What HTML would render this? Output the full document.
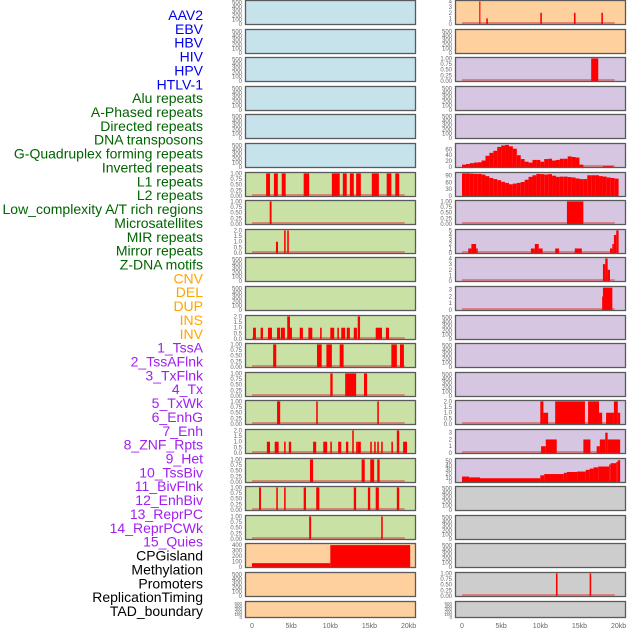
<!DOCTYPE html>
<html><head><meta charset="utf-8">
<style>
html,body{margin:0;padding:0;background:#fff;}
svg{display:block;font-family:"Liberation Sans",sans-serif;}
</style></head>
<body>
<svg id="chart" width="630" height="630" viewBox="0 0 630 630"></svg>
<script>
// ---------- data ----------
const trackLabels = ["AAV2","EBV","HBV","HIV","HPV","HTLV-1","Alu repeats","A-Phased repeats","Directed repeats","DNA transposons","G-Quadruplex forming repeats","Inverted repeats","L1 repeats","L2 repeats","Low_complexity A/T rich regions","Microsatellites","MIR repeats","Mirror repeats","Z-DNA motifs","CNV","DEL","DUP","INS","INV","1_TssA","2_TssAFlnk","3_TxFlnk","4_Tx","5_TxWk","6_EnhG","7_Enh","8_ZNF_Rpts","9_Het","10_TssBiv","11_BivFlnk","12_EnhBiv","13_ReprPC","14_ReprPCWk","15_Quies","CPGisland","Methylation","Promoters","ReplicationTiming","TAD_boundary"];
const labelColors = ["#0000ee","#006400","#ffa500","#a020f0","#000000"];
const labelGroups = [6,13,5,15,5];
const xTickVals = [0,5,10,15,20];
const xTickLabels = ["0","5kb","10kb","15kb","20kb"];
const emptyTicks = [0,100,200,300,400,500];
const ticks1 = [0,0.25,0.5,0.75,1.0];
const ticks2 = [0,0.5,1.0,1.5,2.0];

// bars: [startKb, endKb, value]
const L_r7 = [[1.8,2.3,1],[2.8,3.3,1],[3.8,4.3,1],[6.6,7.3,1],[10.2,11.2,1],[11.6,12.1,1],[12.5,13.0,1],[13.3,13.9,1],[15.3,16.2,1],[17.2,17.8,1],[18.3,18.8,1]];
const L_r8 = [[2.26,2.5,1]];
const L_r9 = [[3.06,3.32,1],[4.1,4.3,2],[4.5,4.7,2]];
const L_r12 = [[0.13,0.5,1],[1.1,1.4,1],[2.04,2.55,1],[3.2,3.6,1],[3.7,4.2,1],[4.5,4.85,2],[4.85,5.1,1],[6.1,6.5,1],[7.2,7.7,1],[8.7,8.9,1],[10.0,10.5,1],[10.9,11.1,1],[11.4,11.9,1],[12.1,12.5,1],[13.0,13.4,1],[13.5,13.8,2],[15.8,16.6,1],[17.1,17.5,1]];
const L_r13 = [[2.7,3.1,1],[8.3,8.9,1],[9.5,10.2,1],[11.2,11.7,1],[17.8,18.5,1],[18.9,19.4,1]];
const L_r14 = [[10.0,10.3,1],[11.9,13.3,1],[14.3,14.7,1]];
const L_r15 = [[3.2,3.6,1],[8.2,8.4,1],[16.0,16.2,1]];
const L_r16 = [[1.9,2.3,1],[2.9,3.4,1],[4.1,4.3,1],[4.7,5.0,1],[7.8,8.2,1],[9.1,9.6,1],[10.0,10.2,1],[11.0,11.4,1],[12.0,12.3,1],[12.8,13.0,2],[13.3,13.5,1],[13.5,13.9,1],[15.1,15.3,1],[15.6,15.8,1],[16.0,16.2,1],[16.5,16.7,1],[17.8,18.0,1],[18.5,18.8,2],[19.3,19.8,1]];
const L_r17 = [[7.4,7.8,1],[14.0,14.4,1],[15.1,15.6,1],[16.0,16.3,1]];
const L_r18 = [[0.9,1.15,1],[3.1,3.3,1],[4.1,4.3,1],[6.6,6.9,1],[8.2,8.6,1],[13.0,13.3,1],[14.8,15.1,1],[15.8,16.2,1],[18.5,18.8,1]];
const L_r19 = [[7.3,7.55,1],[16.5,16.7,1]];
const L_r20 = [[0,10,70],[10,20.2,400]];
const R_r1 = [[2.2,2.35,4],[3.1,3.3,1],[10.0,10.2,2],[14.3,14.5,2],[17.8,18.0,2]];
const R_r3 = [[16.5,17.4,1]];
const R_r6_vals = [8,10,13,15,16,22,38,48,55,68,73,75,70,62,40,27,18,15,24,24,18,27,28,22,24,28,28,36,34,32,8];
const R_r6_extra = [[18.0,19.3,3]];
const R_r7_vals = [100,100,99,98,98,95,88,80,75,70,63,58,52,55,58,62,72,85,92,98,97,95,97,90,85,86,86,84,82,78,75,75,92,92,92,88,86,82,80,77];
const R_r8 = [[13.4,15.5,1]];
const R_r9 = [[0.8,1.2,1],[1.2,1.8,2],[1.8,2.0,1],[8.8,9.3,1],[9.3,9.8,2],[9.8,10.3,1],[11.9,12.4,1],[14.4,15.3,1],[18.9,19.2,1],[19.2,19.4,2],[19.4,19.7,4],[19.7,20.0,5]];
const R_r10 = [[18.0,18.3,3],[18.3,18.6,4],[18.6,18.9,2]];
const R_r11 = [[17.9,18.0,2],[18.0,19.2,3.3]];
const R_r15 = [[10.0,10.4,2],[10.4,11.0,1],[11.9,15.7,2],[16.1,17.5,2],[17.5,17.9,1],[18.4,19.4,1],[19.4,19.9,2],[19.9,20.2,1]];
const R_r16 = [[10.1,10.7,1],[10.7,12.1,2],[15.5,16.4,2],[17.2,17.6,1],[17.6,18.3,2],[18.3,18.6,3],[18.6,20.2,2]];
const R_r17 = [[0,0.9,13],[0.9,2.3,11],[2.3,10,9],[10,10.5,16],[10.5,13,19],[13,13.4,22],[13.4,14.7,24],[14.7,15.8,25],[15.8,16.3,29],[16.3,16.8,32],[16.8,17.4,35],[17.4,18.8,37],[18.8,19,42],[19,19.7,45],[19.7,19.9,48],[19.9,20.2,52]];
const R_r21 = [[12.0,12.2,1],[16.3,16.5,1]];

function bins(vals, start, w){ return vals.map((v,i)=>[start+i*w, start+(i+1)*w, v]); }

const BG = {blue:"#c6e3ec", green:"#c9e1a4", orange:"#fed09e", purple:"#d6c6e1", grey:"#cdcdcd"};
// panels: col, row, bg, bars, ymax, ticks
const panels = [];
for(let r=0;r<22;r++){
  let bg = r<6?BG.blue:(r<19?BG.green:BG.orange);
  panels.push({col:0,row:r,bg:bg,bars:null,ymax:540,ticks:emptyTicks});
}
for(let r=0;r<22;r++){
  let bg = r<2?BG.orange:(r<17?BG.purple:BG.grey);
  panels.push({col:1,row:r,bg:bg,bars:null,ymax:540,ticks:emptyTicks});
}
function setP(col,row,bars,ymax,ticks){ const p=panels[col*22+row]; p.bars=bars; p.ymax=ymax; p.ticks=ticks; }
setP(0,6,L_r7,1.02,ticks1);
setP(0,7,L_r8,1.02,ticks1);
setP(0,8,L_r9,2.04,ticks2);
setP(0,11,L_r12,2.04,ticks2);
setP(0,12,L_r13,1.02,ticks1);
setP(0,13,L_r14,1.02,ticks1);
setP(0,14,L_r15,1.02,ticks1);
setP(0,15,L_r16,2.04,ticks2);
setP(0,16,L_r17,1.02,ticks1);
setP(0,17,L_r18,1.02,ticks1);
setP(0,18,L_r19,1.02,ticks1);
setP(0,19,L_r20,420,[0,100,200,300,400]);
setP(1,0,R_r1,4.1,[0,1,2,3,4]);
setP(1,2,R_r3,1.02,ticks1);
setP(1,5,bins(R_r6_vals,0,0.5).concat(R_r6_extra),78,[0,20,40,60]);
setP(1,6,bins(R_r7_vals,0,0.5),102,[0,30,60,90]);
setP(1,7,R_r8,1.02,ticks1);
setP(1,8,R_r9,5.1,[0,1,2,3,4,5]);
setP(1,9,R_r10,4.1,[0,1,2,3,4]);
setP(1,10,R_r11,3.4,[0,1,2,3]);
setP(1,14,R_r15,2.04,ticks2);
setP(1,15,R_r16,3.4,[0,1,2,3]);
setP(1,16,R_r17,55,[0,10,20,30,40,50]);
setP(1,20,R_r21,1.02,ticks1);

// ---------- drawing ----------
const svg = document.getElementById('chart');
const NS = "http://www.w3.org/2000/svg";
function mk(tag, attrs, parent){ const e=document.createElementNS(NS,tag); for(const k in attrs) e.setAttribute(k,attrs[k]); (parent||svg).appendChild(e); return e; }
const colX = [245,455], PW = 171;
function rowTop(r){ return Math.round(r*28.6); }
function rowH(r){ return r===21?17:25; }
function xScale(kb,col){ return colX[col]+7+kb*7.83; }

// labels
let li=0;
labelGroups.forEach((n,g)=>{
  for(let k=0;k<n;k++){
    const t = mk('text',{x:203,y:15+li*13.86+5,'text-anchor':'end','font-size':14,fill:labelColors[g]});
    t.textContent = trackLabels[li];
    
    
    li++;
  }
});

panels.forEach(p=>{
  const top=rowTop(p.row), h=rowH(p.row), x0=colX[p.col];
  const g = mk('g',{});
  
  
  mk('rect',{x:x0,y:top,width:PW,height:h,fill:p.bg},g);
  const yS = v => top+h-1-(v/p.ymax)*(h-2);
  p.ticks.forEach(v=>{
    const t = mk('text',{x:x0-3,y:yS(v)+2,'text-anchor':'end','font-size':(h<20?4.5:6),fill:'#666'},g);
    t.textContent = (p.ticks===ticks1)?v.toFixed(2):(p.ticks===ticks2?v.toFixed(1):String(v));
    
    
  });
  if(p.bars){
    mk('rect',{x:xScale(0,p.col),y:top+h-3,width:xScale(19.5,p.col)-xScale(0,p.col),height:2,fill:'#e05050',opacity:0.6},g);
    p.bars.forEach(b=>{
      const y=yS(b[2]);
      const r = mk('rect',{x:xScale(b[0],p.col),y:y,width:Math.max(1,xScale(b[1],p.col)-xScale(b[0],p.col)),height:yS(0)-y,fill:'#ff0000'},g);
      
      
    });
  }
  mk('rect',{x:x0+0.5,y:top+0.5,width:PW-1,height:h-1,fill:'none',stroke:'#5a5a5a','stroke-width':1.3},g);
});

// x axes
[0,1].forEach(col=>{
  xTickVals.forEach((v,i)=>{
    const t = mk('text',{x:xScale(v,col),y:628,'text-anchor':'middle','font-size':7,fill:'#666'});
    t.textContent = xTickLabels[i];
    
    
  });
});
</script>
</body></html>
